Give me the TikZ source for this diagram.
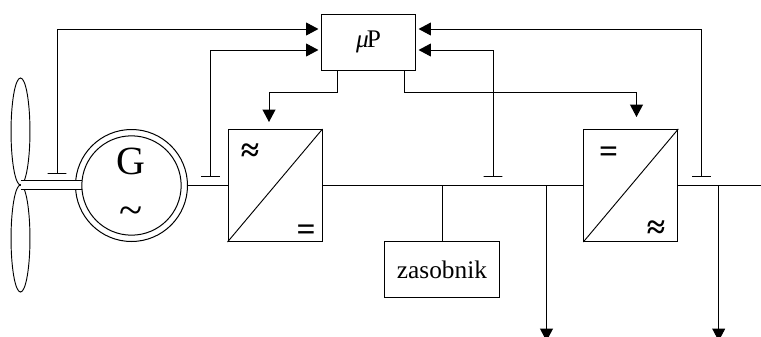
\documentclass[tikz,border=0pt]{standalone}
\usepackage{fontspec}
\setmainfont{Liberation Serif}
\usetikzlibrary{arrows.meta,shapes.geometric}
\tikzset{
  wire/.style={draw=black,line width=0.75pt,line cap=butt,line join=miter},
  sig/.style={wire,-{Triangle[length=9.2pt,width=9.6pt]}},
  sigbox/.style={sig,shorten >=2.3pt},
  boxnode/.style={draw=black,line width=0.75pt,rectangle,inner sep=0pt,minimum height=42pt,font=\fontsize{19}{22}\selectfont},
  convnode/.style={draw=black,line width=0.75pt,rectangle,inner sep=0pt,minimum width=70.5pt,minimum height=84pt},
  circnode/.style={draw=black,line width=0.75pt,circle,inner sep=0pt},
  blade/.style={draw=black,line width=0.7pt,ellipse,inner sep=0pt,minimum width=14.2pt,minimum height=80.3pt},
  symb/.style={inner sep=0pt,font=\fontsize{25}{27}\selectfont\bfseries},
  sensebar/.style={draw=black,line width=0.75pt,rectangle,inner sep=0pt,minimum width=14.2pt,minimum height=0pt}
}
\begin{document}
\begin{tikzpicture}[x=0.75pt,y=-0.75pt]
\useasboundingbox (0,0) rectangle (761,336);
\clip (0,0) rectangle (761,336);
% blades
\node[blade] (bladeA) at (20.5,131.5) {};
\node[blade] (bladeB) at (20.5,238.5) {};
% generator
\node[circnode,minimum size=84pt] (genout) at (131.5,185.5) {};
\coordinate (hubT) at (20.5,180.5);
\coordinate (hubB) at (20.5,189.5);
\coordinate (shaftT) at (82,180.5);
\coordinate (shaftB) at (82,189.5);
\fill[white] (hubT) rectangle (shaftB);
\draw[wire] (hubT) -- (shaftT);
\draw[wire] (hubB) -- (shaftB);
\node[circnode,minimum size=74.5pt,fill=white] (genin) at (131.5,185.5) {};
\node[inner sep=0pt,font=\fontsize{30}{32}\selectfont] (gtext) at (131,161) {G};
\node[inner sep=0pt,font=\fontsize{32}{34}\selectfont] (gtilde) at (131,216) {\char`\~};
% boxes
\node[boxnode,minimum width=70.5pt] (up) at (368.5,42) {\textit{μ}\kern-1.5ptP};
\node[boxnode,minimum width=86pt] (store) at (442,269.5) {zasobnik};
\node[convnode] (convA) at (275,185.5) {};
\node[convnode] (convB) at (630.8,185.5) {};
\draw[wire,line width=0.7pt] (convA.south west) -- (convA.north east);
\draw[wire,line width=0.7pt] (convB.south west) -- (convB.north east);
\node[symb] (sA1) at (250,153) {≈};
\node[symb] (sA2) at (306,233) {=};
\node[symb] (sB1) at (608.5,155) {=};
\node[symb] (sB2) at (656,230) {≈};
% bus
\coordinate (busEnd) at (761,185.5);
\draw[wire] (genout.east) -- (convA.west);
\draw[wire] (convA.east) -- (convB.west);
\draw[wire] (convB.east) -- (busEnd);
\draw[wire] (store.north |- convA.east) -- (store.north);
% sensors
\node[sensebar] (s1) at (57,173.3) {};
\node[sensebar] (s2) at (210.5,176.3) {};
\node[sensebar] (s3) at (493,176.3) {};
\node[sensebar] (s4) at (701.5,176.3) {};
\coordinate (upL1) at (321.5,29);
\coordinate (upL2) at (321.5,50);
\coordinate (upR1) at (415.5,29);
\coordinate (upR2) at (415.5,50);
\draw[sigbox] (s1.center) |- (upL1);
\draw[sigbox] (s2.center) |- (upL2);
\draw[sigbox] (s3.center) |- (upR2);
\draw[sigbox] (s4.center) |- (upR1);
% control outputs
\coordinate (outA) at (337,63);
\coordinate (outB) at (404.5,63);
\coordinate (tipA) at (269,122);
\coordinate (tipB) at (636.5,117);
\draw[sig] (outA |- up.south) -- (337,92) -| (tipA);
\draw[sig] (outB |- up.south) -- (404.5,92) -| (tipB);
% loads
\coordinate (loadA) at (546.5,185.5);
\coordinate (loadB) at (718.7,185.5);
\coordinate (loadAend) at (546.5,341);
\coordinate (loadBend) at (718.7,341);
\draw[sig] (loadA) -- (loadAend);
\draw[sig] (loadB) -- (loadBend);
\end{tikzpicture}
\end{document}
